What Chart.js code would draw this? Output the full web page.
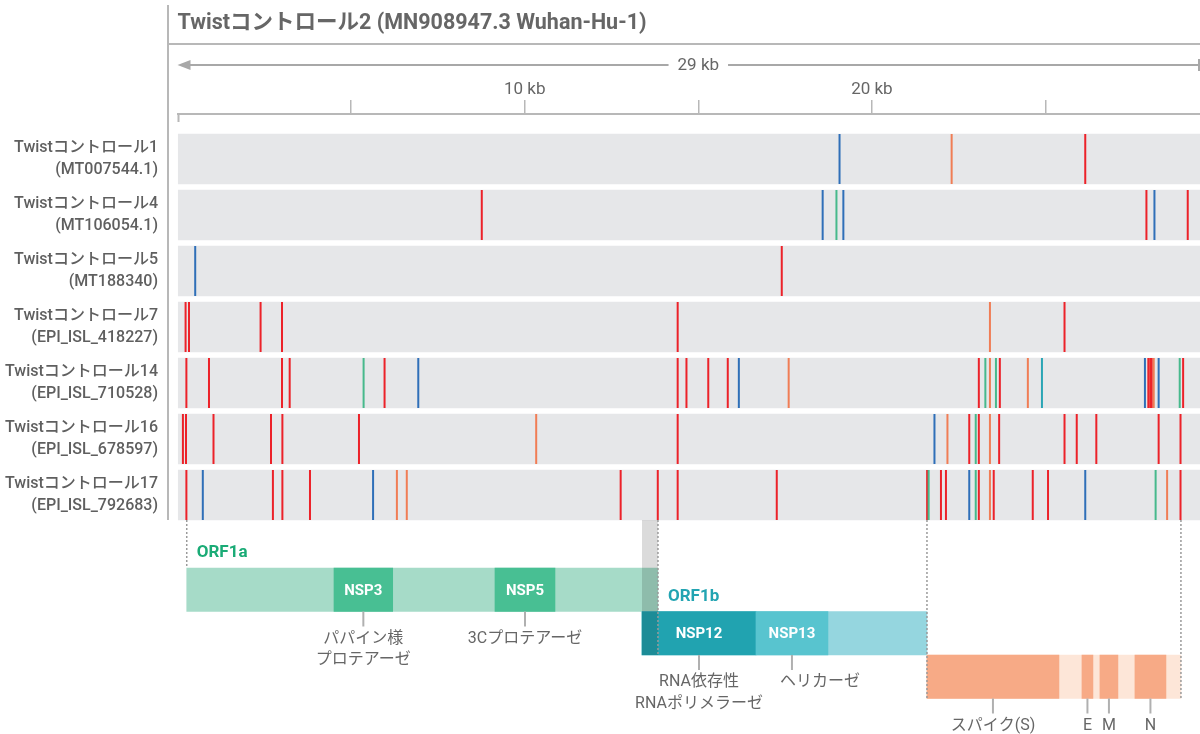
<!DOCTYPE html>
<html lang="ja">
<head>
<meta charset="UTF-8">
<title>Twistコントロール 変異マップ</title>
<script src="https://cdn.jsdelivr.net/npm/chart.js"></script>
<style>
  html, body { margin: 0; padding: 0; background: #fff; overflow: hidden; }
  #wrap { width: 1200px; height: 734px; }
</style>
</head>
<body>
<div id="wrap"><canvas id="variantChart" width="1200" height="734"></canvas></div>
<script>
// ---- data ----
const referenceTitle = 'Twistコントロール2 (MN908947.3 Wuhan-Hu-1)';
const spanLabel = '29 kb';
const axisMax = 29450;          // bp shown on the x axis
const tickValues = [0, 5000, 10000, 15000, 20000, 25000];
const labelledTicks = [10000, 20000];

const sampleNames = ['Twistコントロール1', 'Twistコントロール4', 'Twistコントロール5', 'Twistコントロール7',
                     'Twistコントロール14', 'Twistコントロール16', 'Twistコントロール17'];
const accessions = ['MT007544.1', 'MT106054.1', 'MT188340', 'EPI_ISL_418227',
                    'EPI_ISL_710528', 'EPI_ISL_678597', 'EPI_ISL_792683'];

// [position (bp), colour class]
const variants = [
  [[19068,'b'],[22297,'o'],[26145,'r']],
  [[8764,'r'],[18582,'b'],[18979,'g'],[19178,'b'],[27907,'r'],[28138,'b'],[29097,'r']],
  [[510,'b'],[17404,'r']],
  [[233,'r'],[331,'r'],[2393,'r'],[3010,'r'],[14406,'r'],[23400,'o'],[25548,'r']],
  [[256,'r'],[907,'r'],[3010,'r'],[3231,'r'],[5360,'g'],[5964,'r'],[6935,'b'],[14406,'r'],[14659,'r'],
   [15287,'r'],[15849,'r'],[16168,'b'],[17603,'o'],[23080,'r'],[23268,'g'],[23400,'o'],[23573,'g'],
   [23685,'r'],[24492,'o'],[24898,'t'],[27864,'b'],[27962,'r'],[28017,'r'],[28060,'r'],[28117,'o'],
   [28259,'b'],[28866,'g'],[28964,'r']],
  [[156,'r'],[245,'r'],[1037,'r'],[2693,'r'],[3021,'r'],[5227,'r'],[10331,'o'],[14406,'r'],[21802,'b'],
   [22176,'o'],[22804,'r'],[22991,'g'],[23080,'r'],[23400,'o'],[23665,'r'],[25548,'r'],[25900,'r'],
   [26464,'r'],[28259,'r'],[28889,'r']],
  [[256,'r'],[729,'b'],[2748,'r'],[3021,'r'],[3816,'r'],[5633,'b'],[6319,'o'],[6604,'o'],[12764,'r'],
   [13833,'r'],[14406,'r'],[17260,'r'],[21591,'r'],[21635,'g'],[21989,'r'],[22133,'r'],[22804,'b'],
   [22991,'g'],[23080,'r'],[23400,'o'],[23509,'r'],[24633,'r'],[25073,'r'],[26145,'b'],[28172,'g'],
   [28503,'o'],[28889,'r']]
];

const geneNames  = ['ORF1a', 'NSP3', 'NSP5', 'ORF1b', 'NSP12', 'NSP13', 'ORF2-10', 'S', 'E', 'M', 'N'];
const geneTracks = [0, 0, 0, 1, 1, 1, 2, 2, 2, 2, 2];
const geneStarts = [266, 4507, 9144, 13378, 13378, 16661, 21586, 21586, 26050, 26568, 27576];
const geneEnds   = [13838, 6198, 10872, 21586, 16661, 18734, 28901, 25387, 26366, 27086, 28469];
const geneNotes  = [null, ['パパイン様', 'プロテアーゼ'], ['3Cプロテアーゼ'], null, ['RNA依存性', 'RNAポリメラーゼ'],
                    ['ヘリカーゼ'], null, ['スパイク(S)'], ['E'], ['M'], ['N']];
const innerLabelled = ['NSP3', 'NSP5', 'NSP12', 'NSP13'];
const trackTitles = ['ORF1a', 'ORF1b'];
const frameshift = [13378, 13838];
const guideAt    = [266, 13838, 21586, 28901];
const guideDepth = [-0.5, 1.5, 2.5, 2.5];   // track edge each dotted guide runs down to

// ---- style / layout ----
const variantColors = { r: '#ec2229', b: '#2f6fb8', g: '#47b98c', o: '#f07d55', t: '#2aa5b5' };
const geneFill = { ORF1a: '#a6dbc8', NSP3: '#48bf93', NSP5: '#48bf93', ORF1b: '#95d6df', NSP12: '#21a3b0',
                   NSP13: '#58c4cf', 'ORF2-10': '#fde6d8', S: '#f7aa86', E: '#f7aa86', M: '#f7aa86', N: '#f7aa86' };
const titleColors = ['#1aab76', '#22a4b2'];
const noteShift = { NSP13: 28 };
const GREY = '#666';
const LINE = '#b8b8b8';

const PLOT_TOP = 114, PLOT_BOTTOM = 734;
const ROW_PITCH = 56, FIRST_ROW_Y = 159, BAND = 50;
const TRACK_PITCH = 43.5, FIRST_TRACK_Y = 589.75;
const ROW_MIN = (PLOT_TOP - FIRST_ROW_Y) / ROW_PITCH;
const ROW_MAX = ROW_MIN + (PLOT_BOTTOM - PLOT_TOP) / ROW_PITCH;
const TRACK_MIN = (PLOT_TOP - FIRST_TRACK_Y) / TRACK_PITCH;
const TRACK_MAX = TRACK_MIN + (PLOT_BOTTOM - PLOT_TOP) / TRACK_PITCH;

Chart.defaults.font.family = "Roboto, 'Noto Sans CJK JP', sans-serif";

const variantPoints = [], variantColorList = [];
variants.forEach((row, i) => row.forEach(([pos, c]) => {
  variantPoints.push({ x: pos, y: i });
  variantColorList.push(variantColors[c]);
}));

const decor = {
  id: 'decor',
  beforeDraw(chart) {
    const { ctx, scales: { x, y } } = chart;
    const rowsBottom = y.getPixelForValue(sampleNames.length - 1) + BAND / 2;
    ctx.save();
    ctx.strokeStyle = LINE;
    ctx.lineWidth = 2;
    ctx.beginPath();
    ctx.moveTo(168, 5); ctx.lineTo(168, rowsBottom);
    ctx.moveTo(168, 44); ctx.lineTo(x.right, 44);
    ctx.moveTo(x.left + 1, PLOT_TOP); ctx.lineTo(x.left + 1, PLOT_TOP + 8);
    ctx.stroke();

    ctx.fillStyle = GREY;
    ctx.font = "bold 21.5px Roboto, 'Noto Sans CJK JP', sans-serif";
    ctx.textBaseline = 'middle';
    ctx.textAlign = 'left';
    ctx.fillText(referenceTitle, x.left, 24);

    // span arrow
    const ay = 65, mid = x.getPixelForValue(15000);
    ctx.font = "17px Roboto, 'Noto Sans CJK JP', sans-serif";
    const half = ctx.measureText(spanLabel).width / 2 + 9;
    ctx.strokeStyle = '#a8a8a8';
    ctx.fillStyle = '#a8a8a8';
    ctx.beginPath();
    ctx.moveTo(x.left + 10, ay); ctx.lineTo(mid - half, ay);
    ctx.moveTo(mid + half, ay); ctx.lineTo(x.right - 1, ay);
    ctx.moveTo(x.right - 1, ay - 6); ctx.lineTo(x.right - 1, ay + 6);
    ctx.stroke();
    ctx.beginPath();
    ctx.moveTo(x.left, ay); ctx.lineTo(x.left + 13, ay - 5); ctx.lineTo(x.left + 13, ay + 5);
    ctx.closePath(); ctx.fill();
    ctx.fillStyle = GREY;
    ctx.textAlign = 'center';
    ctx.fillText(spanLabel, mid, ay + 1);
    ctx.restore();
  },
  afterDatasetsDraw(chart) {
    const { ctx, scales: { x, y, y2 } } = chart;
    const rowsBottom = y.getPixelForValue(sampleNames.length - 1) + BAND / 2;
    const trackEdge = v => y2.getPixelForValue(v);
    ctx.save();

    // ribosomal frameshift overlap
    ctx.fillStyle = 'rgba(0,0,0,0.14)';
    const f0 = x.getPixelForValue(frameshift[0]), f1 = x.getPixelForValue(frameshift[1]);
    ctx.fillRect(f0, rowsBottom, f1 - f0, trackEdge(1.5) - rowsBottom);

    // dotted guides
    ctx.strokeStyle = '#9a9a9a';
    ctx.lineWidth = 1.5;
    ctx.setLineDash([2, 2]);
    guideAt.forEach((pos, i) => {
      const gx = x.getPixelForValue(pos);
      ctx.beginPath();
      ctx.moveTo(gx, rowsBottom); ctx.lineTo(gx, trackEdge(guideDepth[i]));
      ctx.stroke();
    });
    ctx.setLineDash([]);

    // track titles
    ctx.textBaseline = 'middle';
    ctx.textAlign = 'left';
    ctx.font = "bold 17px Roboto, 'Noto Sans CJK JP', sans-serif";
    trackTitles.forEach((t, k) => {
      const gi = geneNames.indexOf(t);
      const start = k === 1 ? frameshift[1] : geneStarts[gi];
      ctx.fillStyle = titleColors[k];
      ctx.fillText(t, x.getPixelForValue(start) + 10, trackEdge(k - 0.5) - 15);
    });

    // labels inside bars
    ctx.textAlign = 'center';
    ctx.fillStyle = '#fff';
    ctx.font = "bold 15px Roboto, 'Noto Sans CJK JP', sans-serif";
    geneNames.forEach((g, i) => {
      if (!innerLabelled.includes(g)) return;
      const cx = x.getPixelForValue((geneStarts[i] + geneEnds[i]) / 2);
      ctx.fillText(g, cx, y2.getPixelForValue(geneTracks[i]) + 1);
    });

    // leader lines and notes
    ctx.font = "16px Roboto, 'Noto Sans CJK JP', sans-serif";
    ctx.lineWidth = 2;
    ctx.strokeStyle = '#b0b0b0';
    geneNames.forEach((g, i) => {
      const note = geneNotes[i];
      if (!note) return;
      const cx = x.getPixelForValue((geneStarts[i] + geneEnds[i]) / 2);
      const by = trackEdge(geneTracks[i] + 0.5);
      ctx.beginPath();
      ctx.moveTo(cx, by); ctx.lineTo(cx, by + 15);
      ctx.stroke();
      ctx.fillStyle = GREY;
      note.forEach((line, k) => ctx.fillText(line, cx + (noteShift[g] || 0), by + 27 + k * 21.7));
    });
    ctx.restore();
  }
};

new Chart(document.getElementById('variantChart'), {
  type: 'bar',
  data: {
    datasets: [
      {
        type: 'scatter',
        label: 'variants',
        data: variantPoints,
        xAxisID: 'x', yAxisID: 'y',
        pointStyle: 'line',
        rotation: 90,
        radius: BAND / 2,
        hoverRadius: BAND / 2,
        borderWidth: 2,
        pointBorderColor: variantColorList,
        pointBackgroundColor: variantColorList
      },
      {
        label: 'samples',
        data: sampleNames.map((_, i) => ({ x: [0, axisMax], y: i })),
        xAxisID: 'x', yAxisID: 'y',
        backgroundColor: '#e6e7e9',
        barThickness: BAND,
        grouped: false,
        borderWidth: 0
      },
      {
        label: 'genes',
        data: geneNames.map((g, i) => ({ x: [geneStarts[i], geneEnds[i]], y: geneTracks[i] })),
        xAxisID: 'x', yAxisID: 'y2',
        backgroundColor: geneNames.map(g => geneFill[g]),
        barThickness: TRACK_PITCH,
        grouped: false,
        borderWidth: 0
      }
    ]
  },
  options: {
    indexAxis: 'y',
    responsive: false,
    devicePixelRatio: 1,
    animation: false,
    events: [],
    layout: { padding: 0, autoPadding: false },
    plugins: { legend: { display: false }, tooltip: { enabled: false } },
    scales: {
      x: {
        type: 'linear',
        position: 'top',
        min: 0,
        max: axisMax,
        offset: false,
        afterFit: s => { s.height = PLOT_TOP; s.paddingLeft = 0; s.paddingRight = 0; },
        afterBuildTicks: s => { s.ticks = tickValues.map(v => ({ value: v })); },
        border: { color: LINE, width: 2 },
        grid: {
          drawOnChartArea: false,
          tickLength: 14,
          lineWidth: 1.5,
          color: c => (c.tick && c.tick.value === 0) ? 'rgba(0,0,0,0)' : LINE
        },
        ticks: {
          autoSkip: false,
          maxRotation: 0,
          padding: 0,
          color: GREY,
          font: { size: 17 },
          callback: v => labelledTicks.includes(v) ? (v / 1000) + ' kb' : ''
        }
      },
      y: {
        type: 'linear',
        position: 'left',
        reverse: true,
        offset: false,
        min: ROW_MIN,
        max: ROW_MAX,
        afterFit: s => { s.width = 177.5; s.paddingTop = 0; s.paddingBottom = 0; },
        afterBuildTicks: s => { s.ticks = sampleNames.map((_, i) => ({ value: i })); },
        grid: { display: false, drawTicks: false, offset: false },
        border: { display: false },
        ticks: {
          autoSkip: false,
          padding: 19.5,
          color: '#5f5f5f',
          font: { size: 16, weight: 500, lineHeight: 1.375 },
          callback: v => [sampleNames[v], '(' + accessions[v] + ')']
        }
      },
      y2: {
        type: 'linear',
        display: false,
        reverse: true,
        offset: false,
        min: TRACK_MIN,
        max: TRACK_MAX,
        grid: { offset: false }
      }
    }
  },
  plugins: [decor]
});
</script>
</body>
</html>
